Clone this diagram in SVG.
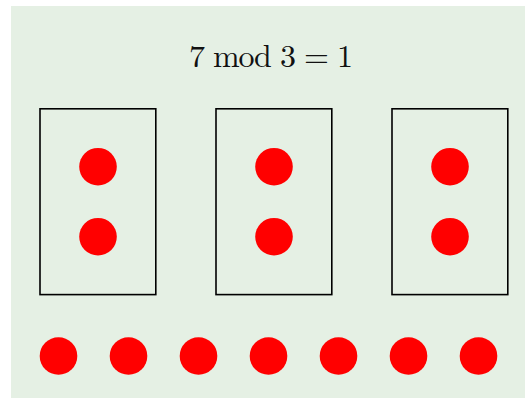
<svg xmlns="http://www.w3.org/2000/svg" width="525" height="398" viewBox="0 0 525 398">
<style>
.box{fill:none;stroke:#000;stroke-width:1.6}
.dot{fill:#ff0000}
.t{font-family:"Latin Modern Roman","Liberation Serif","DejaVu Serif",serif;font-size:32px;fill:#111}
</style>
<rect x="11" y="6" width="514" height="392" fill="#e5f0e4"/>
<text class="t" x="271" y="66.7" text-anchor="middle" textLength="164" lengthAdjust="spacing">7 mod 3 = 1</text>
<g id="group1">
<rect class="box" x="40" y="108.8" width="115.8" height="185.8"/>
<circle class="dot" cx="98" cy="166.7" r="18.8"/>
<circle class="dot" cx="98" cy="236.7" r="18.8"/>
</g>
<g id="group2">
<rect class="box" x="216" y="108.8" width="115.8" height="185.8"/>
<circle class="dot" cx="274" cy="166.7" r="18.8"/>
<circle class="dot" cx="274" cy="236.7" r="18.8"/>
</g>
<g id="group3">
<rect class="box" x="392" y="108.8" width="115.8" height="185.8"/>
<circle class="dot" cx="450" cy="166.7" r="18.8"/>
<circle class="dot" cx="450" cy="236.7" r="18.8"/>
</g>
<g id="row">
<circle class="dot" cx="58.5" cy="356" r="18.8"/>
<circle class="dot" cx="128.5" cy="356" r="18.8"/>
<circle class="dot" cx="198.5" cy="356" r="18.8"/>
<circle class="dot" cx="268.5" cy="356" r="18.8"/>
<circle class="dot" cx="338.5" cy="356" r="18.8"/>
<circle class="dot" cx="408.5" cy="356" r="18.8"/>
<circle class="dot" cx="478.5" cy="356" r="18.8"/>
</g>
<g id="connectors"/>
</svg>
